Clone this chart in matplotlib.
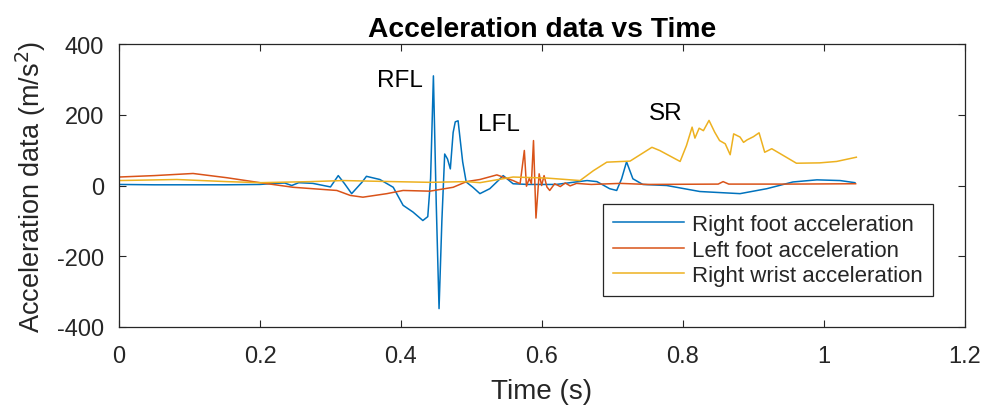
import matplotlib
matplotlib.use("Agg")
import matplotlib.pyplot as plt

plt.rcParams['font.family'] = ['Liberation Sans', 'DejaVu Sans']
plt.rcParams['axes.unicode_minus'] = False

# Right foot acceleration
t_rf = [0, 0.05, 0.1, 0.15, 0.2, 0.22, 0.235, 0.245, 0.255, 0.275, 0.3, 0.311, 0.32, 0.33,
        0.345, 0.351, 0.37, 0.389, 0.403, 0.417, 0.431, 0.438, 0.442, 0.446, 0.450, 0.454,
        0.458, 0.462, 0.466, 0.470, 0.474, 0.477, 0.481, 0.4875, 0.4925, 0.502, 0.512, 0.526,
        0.538, 0.545, 0.559, 0.58, 0.62, 0.664, 0.678, 0.696, 0.706, 0.713, 0.72, 0.729,
        0.743, 0.777, 0.824, 0.881, 0.919, 0.956, 0.99, 1.023, 1.044]
v_rf = [3, 2, 2, 2, 3, 6, 7, 0, 8, 6, -4, 28, 5, -23,
        10, 26, 17, -5, -56, -75, -99, -88, 20, 310, -50, -348,
        -100, 89, 75, 47, 150, 180, 183, 67, 10, -5, -23, -9,
        14, 28, 5, 3, 3, 14, 11, -9, -14, 19, 67, 19,
        3, 0, -17, -23, -9, 10, 16, 14, 8]

# Left foot acceleration
t_lf = [0, 0.05, 0.105, 0.153, 0.2, 0.247, 0.309, 0.328, 0.346, 0.38, 0.403, 0.441, 0.474,
        0.493, 0.512, 0.536, 0.559, 0.569, 0.575, 0.578, 0.582, 0.585, 0.588, 0.5915, 0.596,
        0.5995, 0.603, 0.607, 0.611, 0.618, 0.626, 0.633, 0.64, 0.649, 0.67, 0.711, 0.75,
        0.85, 0.857, 0.865, 0.95, 1.045]
v_lf = [24, 28, 34, 22, 8, -5, -14, -28, -33, -23, -14, -16, -5,
        11, 17, 30, 14, 5, 99, -2, 20, 5, 127, -92, 33,
        0, 28, -4, -14, 5, -3, 7, -1, 6, 3, 6, 3,
        4, 11, 4, 4, 5]

# Right wrist acceleration
t_rw = [0, 0.082, 0.153, 0.2, 0.271, 0.318, 0.389, 0.441, 0.493, 0.512, 0.559, 0.607, 0.654,
        0.673, 0.692, 0.725, 0.756, 0.767, 0.796, 0.805, 0.813, 0.817, 0.823, 0.829, 0.837,
        0.845, 0.852, 0.86, 0.867, 0.872, 0.881, 0.886, 0.891, 0.9, 0.908, 0.916, 0.926,
        0.938, 0.961, 0.994, 1.018, 1.046]
v_rw = [14, 17, 11, 8, 11, 14, 11, 9, 11, 8, 24, 21, 14,
        42, 66, 69, 108, 99, 68, 113, 165, 134, 162, 155, 184,
        151, 127, 118, 87, 146, 137, 122, 129, 138, 149, 94, 104,
        90, 63, 64, 68, 80]

labels = ['Right foot acceleration', 'Left foot acceleration', 'Right wrist acceleration']
colors = ['#0072BD', '#D95319', '#EDB120']

annotations = [('RFL', 0.399, 297), ('LFL', 0.539, 175), ('SR', 0.776, 205)]
xticks = [0, 0.2, 0.4, 0.6, 0.8, 1.0, 1.2]
xticklabels = ['0', '0.2', '0.4', '0.6', '0.8', '1', '1.2']
yticks = [-400, -200, 0, 200, 400]

fig = plt.figure(figsize=(9.87, 4.10), dpi=100)
ax = fig.add_axes([0.1206, 0.2, 0.857, 0.6902])

for t, v, lab, c in zip([t_rf, t_lf, t_rw], [v_rf, v_lf, v_rw], labels, colors):
    ax.plot(t, v, color=c, lw=1.1, label=lab)

for txt, x, y in annotations:
    ax.text(x, y, txt, fontsize=17.5, ha='center', va='center', color='black')

ax.set_xlim(0, 1.2)
ax.set_ylim(-400, 400)
ax.set_xticks(xticks)
ax.set_xticklabels(xticklabels)
ax.set_yticks(yticks)
dark = '#262626'
ax.tick_params(direction='in', top=True, right=True, length=5, width=0.8,
               labelsize=17, colors=dark)
ax.tick_params(axis='x', pad=13)
ax.tick_params(axis='y', pad=11)
for s in ax.spines.values():
    s.set_color(dark)
    s.set_linewidth(0.9)

ax.set_title('Acceleration data vs Time', fontsize=20.3, fontweight='bold', pad=6)
ax.set_xlabel('Time (s)', fontsize=20, color=dark, labelpad=8)
ax.set_ylabel('Acceleration data (m/s$^2$)', fontsize=19.5, color=dark, labelpad=6)

leg = ax.legend(loc='upper left', bbox_to_anchor=(0.572, 0.4346), fontsize=16,
                frameon=True, fancybox=False, framealpha=1, edgecolor=dark,
                handlelength=3.2, handletextpad=0.36, borderpad=0.46, labelspacing=0.2,
                borderaxespad=0)
leg.get_frame().set_linewidth(0.9)
for txt in leg.get_texts():
    txt.set_color(dark)

fig.savefig('out.png', dpi=100)
